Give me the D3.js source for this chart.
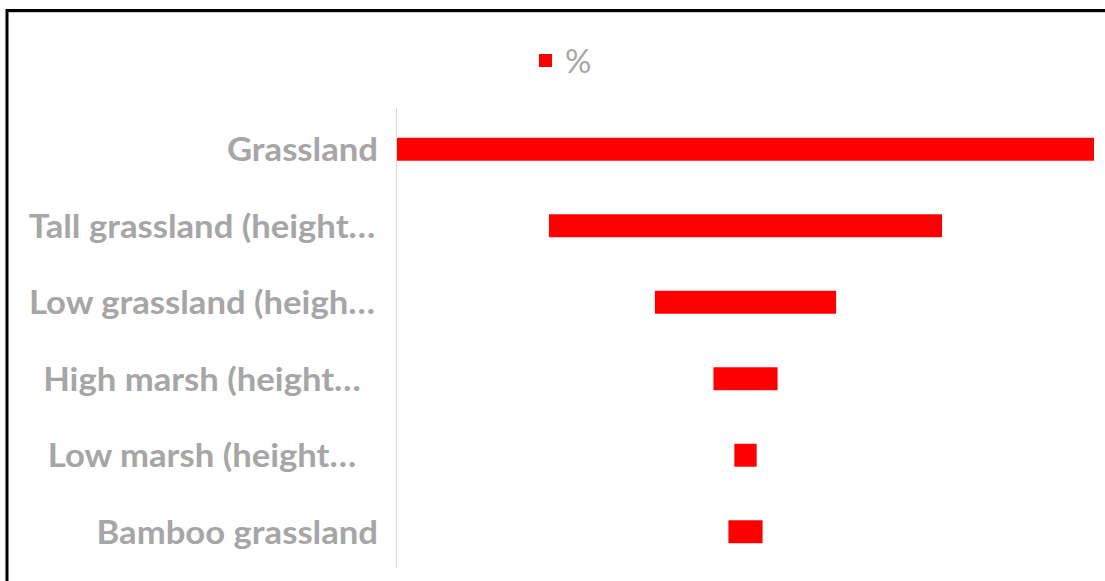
<!DOCTYPE html>
<html>
<head>
<meta charset="utf-8">
<script src="https://cdn.jsdelivr.net/npm/d3@7"></script>
<style>
  html, body { margin: 0; padding: 0; background: #fff; }
  svg { display: block; }
  .lbl { font-family: Lato, "Open Sans", sans-serif; font-weight: bold; fill: #a6a6a6; }
</style>
</head>
<body>
<svg id="chart" width="1105" height="581"></svg>
<script>
// funnel stages, top to bottom
var categories = ["Grassland", "Tall grassland (height\u2026", "Low grassland (heigh\u2026",
                  "High marsh (height\u2026", "Low marsh (height\u2026", "Bamboo grassland"];
var values = [100, 56.4, 26.0, 9.2, 3.2, 4.9];
var seriesName = "%";

var width = 1105, height = 581;
var margin = {top: 111, right: 11, bottom: 11, left: 397};
var innerwidth = width - margin.left - margin.right,
    innerheight = height - margin.top - margin.bottom;

var svg = d3.select("#chart");

// outer frame (only top and left edges show in the crop)
svg.append("line").attr("x1", 7).attr("x2", width).attr("y1", 10.5).attr("y2", 10.5)
  .attr("stroke", "#000").attr("stroke-width", 3);
svg.append("line").attr("x1", 7).attr("x2", 7).attr("y1", 9).attr("y2", height)
  .attr("stroke", "#000").attr("stroke-width", 3);
svg.append("line").attr("x1", 9).attr("x2", width).attr("y1", 12.5).attr("y2", 12.5)
  .attr("stroke", "#ccc").attr("stroke-width", 1);

var g = svg.append("g").attr("transform", "translate(" + margin.left + "," + margin.top + ")");

var x = d3.scaleLinear().domain([0, d3.max(values)]).range([0, innerwidth]);
var y = d3.scaleBand().domain(categories).range([0, innerheight])
  .paddingInner(0.7).paddingOuter(0.35);

var mid = innerwidth / 2;

// category axis line
g.append("line").attr("x1", -0.5).attr("x2", -0.5).attr("y1", -3).attr("y2", innerheight - 2)
  .attr("stroke", "#d9d9d9").attr("stroke-width", 1);

g.selectAll(".bar")
  .data(values)
  .enter().append("rect")
  .attr("class", "bar")
  .attr("x", function(d) { return mid - x(d) / 2; })
  .attr("y", function(d, i) { return y(categories[i]); })
  .attr("width", function(d) { return x(d); })
  .attr("height", y.bandwidth())
  .attr("fill", "#ff0000");

// labels: full names right aligned, truncated ones centred in the label box
var labelBoxLeft = -371, labelBoxRight = -19;
g.selectAll(".cat")
  .data(categories)
  .enter().append("text")
  .attr("class", "lbl cat")
  .attr("transform", function(d) {
    var truncated = d.slice(-1) === "\u2026";
    var tx = truncated ? (labelBoxLeft + labelBoxRight) / 2 : labelBoxRight;
    return "translate(" + tx + "," + (y(d) + y.bandwidth() / 2) + ") scale(1.05,1)";
  })
  .attr("text-anchor", function(d) { return d.slice(-1) === "\u2026" ? "middle" : "end"; })
  .attr("dy", "0.36em")
  .style("font-size", "33px")
  .text(function(d) { return d; });

// legend
var legend = svg.append("g").attr("transform", "translate(539,54)");
legend.append("rect").attr("width", 13).attr("height", 13).attr("fill", "#ff0000");
legend.append("text").attr("class", "lbl")
  .attr("x", 26).attr("y", 7).attr("dy", "0.36em")
  .style("font-size", "33px").style("font-weight", "normal")
  .text(seriesName);
</script>
</body>
</html>
